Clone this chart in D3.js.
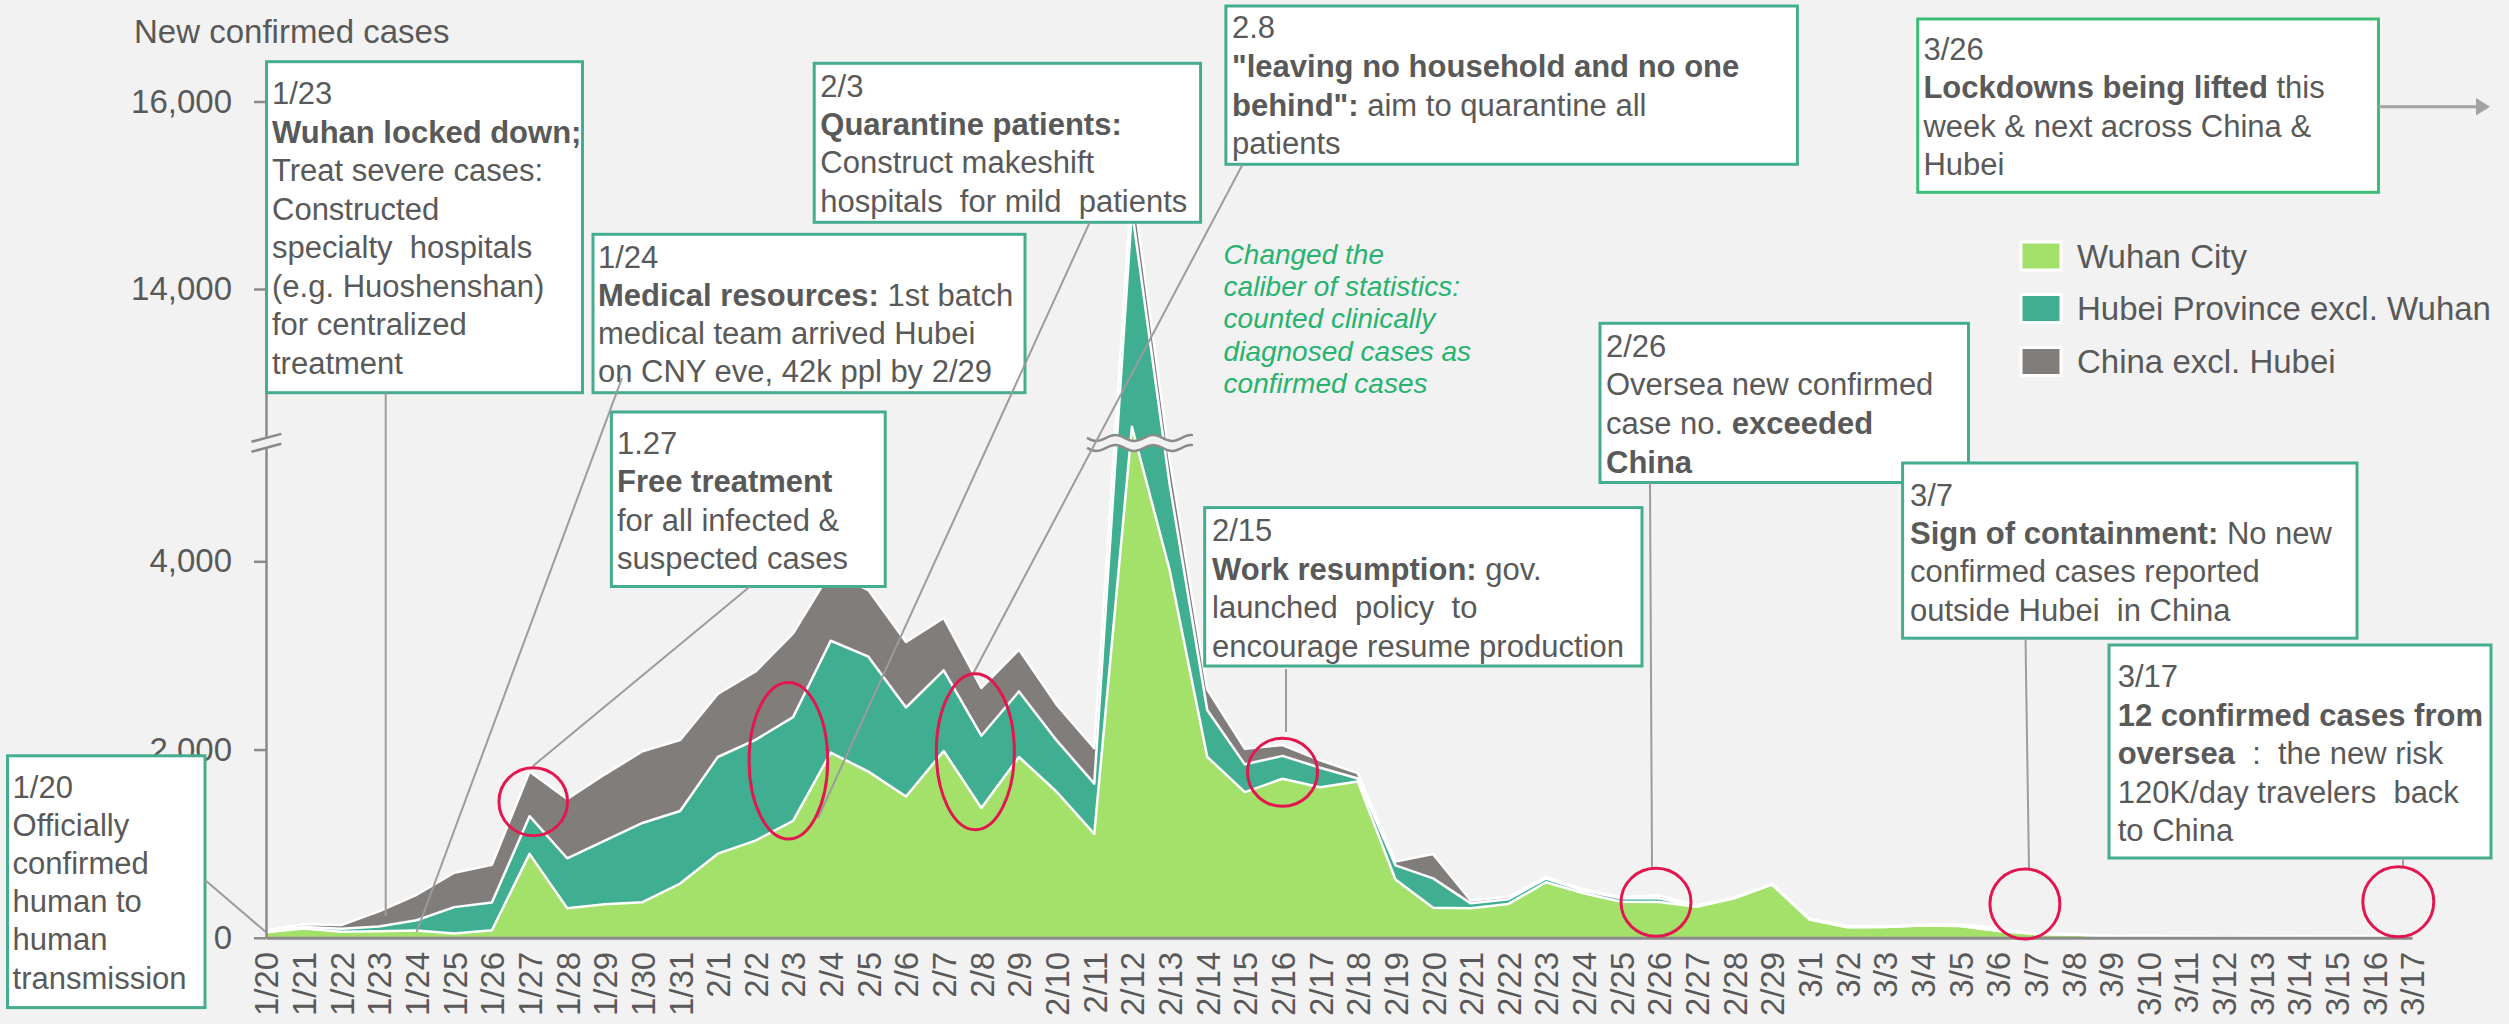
<!DOCTYPE html>
<html>
<head>
<meta charset="utf-8">
<script src="https://cdn.jsdelivr.net/npm/d3@7"></script>
<style>
  html, body { margin: 0; padding: 0; background: #f2f2f2; }
  svg { display: block; font-family: "Liberation Sans", Arial, sans-serif; }
  text { white-space: pre; }
</style>
</head>
<body>
<svg id="chart" width="2509" height="1024"></svg>
<script>
// ---------------- data ----------------
const dates = ["1/20","1/21","1/22","1/23","1/24","1/25","1/26","1/27","1/28","1/29","1/30","1/31",
  "2/1","2/2","2/3","2/4","2/5","2/6","2/7","2/8","2/9","2/10","2/11","2/12","2/13","2/14","2/15","2/16",
  "2/17","2/18","2/19","2/20","2/21","2/22","2/23","2/24","2/25","2/26","2/27","2/28","2/29",
  "3/1","3/2","3/3","3/4","3/5","3/6","3/7","3/8","3/9","3/10","3/11","3/12","3/13","3/14","3/15","3/16","3/17"];
const wuhanCity = [60,100,65,70,77,46,80,892,315,356,378,576,894,1033,1242,1967,1766,1501,1985,1379,1921,1552,1104,
  12530,3910,1923,1548,1690,1600,1660,620,319,314,360,590,474,384,380,330,420,565,193,111,114,131,126,74,41,36,17,13,8,5,4,4,4,1,1];
const hubeiExclWuhan = [12,15,30,50,110,280,295,400,530,676,842,771,1027,1070,1103,1189,1221,946,856,768,697,545,534,
  2310,913,497,295,243,207,33,150,312,52,50,40,25,35,40,5,3,5,3,3,1,3,0,0,0,0,0,0,0,0,0,0,0,0,0];
const chinaExclHubei = [5,30,40,160,270,365,400,475,630,705,762,755,669,726,890,731,707,696,558,509,444,381,377,
  312,267,221,166,115,79,56,40,258,31,25,18,15,15,30,10,4,3,6,11,4,5,17,25,3,4,2,11,7,3,7,16,12,20,12];
const seriesNames = ["Wuhan City","Hubei Province excl. Wuhan","China excl. Hubei"];
const seriesKeys = ["wuhan","hubei","china"];
const yTickValues = [0,2000,4000,14000,16000];
const yBreak = [5270, 12370];   // values removed by the axis break

// ---------------- styles ----------------
const colors = {wuhan:"#a3e16b", hubei:"#3fae91", china:"#817d7b"};
const textColor = "#595959";
const axisColor = "#8a8a8a";
const boxStroke = "#45ad8f";
const circleColor = "#e3174f";
const lineColor = "#9c9c9c";
const bg = "#f2f2f2";

const svg = d3.select("#chart");
svg.append("rect").attr("width",2509).attr("height",1024).attr("fill",bg);

const x = d3.scalePoint().domain(dates).range([266, 2412]);
const y = d3.scaleLinear().domain([0, yBreak[0], yBreak[1], 16000]).range([937.8, 441.8, 441.8, 101.5]);

const table = dates.map((d,i) => ({date:d, wuhan:wuhanCity[i], hubei:hubeiExclWuhan[i], china:chinaExclHubei[i]}));
const stacked = d3.stack().keys(seriesKeys)(table);

const area = d3.area().x(d => x(d.data.date)).y0(d => y(d[0])).y1(d => y(d[1]));
const topLine = d3.line().x(d => x(d.data.date)).y(d => y(d[1]));

const gData = svg.append("g");
gData.selectAll("path.area").data(stacked).join("path")
  .attr("class","area").attr("d", area).attr("fill", d => colors[d.key]);
gData.selectAll("path.top").data(stacked).join("path")
  .attr("class","top").attr("d", topLine).attr("fill","none")
  .attr("stroke","#ffffff").attr("stroke-width",2.5).attr("stroke-linejoin","round");

// wavy break across the 2/12 spike
const peakX = x("2/12");
const wave = (base) => d3.range(0, 41).map(k => {
  const t = k/40;
  return [peakX - 45 + 106*t, base + 3*Math.sin(t*Math.PI*2*2.8)];
});
const upper = wave(438), lower = wave(448);
svg.append("path")
  .attr("d", d3.line()(upper.concat(lower.slice().reverse())) + "Z")
  .attr("fill", bg);
[upper, lower].forEach(pts => svg.append("path").attr("d", d3.line().curve(d3.curveBasis)(pts))
  .attr("fill","none").attr("stroke",axisColor).attr("stroke-width",2.5));

// ---------------- axes ----------------
const yAxis = svg.append("g").attr("transform","translate(266,0)")
  .call(d3.axisLeft(y).tickValues(yTickValues).tickSize(12).tickSizeOuter(0).tickPadding(22)
    .tickFormat(d3.format(",")));
yAxis.select(".domain").attr("stroke",axisColor).attr("stroke-width",2.5);
yAxis.selectAll(".tick line").attr("stroke",axisColor).attr("stroke-width",2.5);
yAxis.selectAll(".tick text").attr("fill",textColor).style("font-size","33px");

// axis break mark
svg.append("path").attr("d","M251.4,441.8L281.3,433.9L281.3,443.8L251.4,451.8Z").attr("fill",bg);
svg.append("path").attr("d","M251.4,441.8L281.3,433.9M251.4,451.8L281.3,443.8")
  .attr("stroke",axisColor).attr("stroke-width",2.5);

const xAxis = svg.append("g").attr("transform","translate(0,937.8)")
  .call(d3.axisBottom(x).tickSize(0).tickSizeOuter(0));
xAxis.select(".domain").attr("stroke",axisColor).attr("stroke-width",3);
xAxis.selectAll(".tick text")
  .attr("transform","rotate(-90)").attr("text-anchor","end")
  .attr("x",-14).attr("y",0).attr("dy","0.36em")
  .attr("fill",textColor).style("font-size","33px");

svg.append("text").attr("x",134).attr("y",43).attr("fill",textColor)
  .style("font-size","33px").text("New confirmed cases");

// ---------------- callout lines ----------------
const callouts = [
  [205,880,265.8,932],
  [385.7,392.7,385.7,916],
  [750,586.5,533,766],
  [1089.7,222.3,818,818],
  [1242.7,164.3,973.3,673.5],
  [1286,669,1286,732],
  [1650,482.5,1652,868],
  [2025.5,638.2,2029,870],
  [2403,858,2403,867]
];

// ---------------- annotation boxes ----------------
const boxes = [
  {x:266.5,y:61.7,w:316,h:331, tx:272, by:104, lh:38.5, lines:[
    [["1/23",0]],[["Wuhan locked down;",1]],[["Treat severe cases:",0]],[["Constructed",0]],
    [["specialty  hospitals",0]],[["(e.g. Huoshenshan)",0]],[["for centralized",0]],[["treatment",0]]]},
  {x:593,y:234.3,w:432,h:158.4, tx:598, by:268.3, lh:38, lines:[
    [["1/24",0]],[["Medical resources:",1],[" 1st batch",0]],[["medical team arrived Hubei",0]],
    [["on CNY eve, 42k ppl by 2/29",0]]]},
  {x:611.4,y:412,w:273.8,h:174.5, tx:617, by:453.8, lh:38.5, lines:[
    [["1.27",0]],[["Free treatment",1]],[["for all infected &",0]],[["suspected cases",0]]]},
  {x:814.2,y:63.3,w:386.4,h:159, tx:820.3, by:96.7, lh:38.3, lines:[
    [["2/3",0]],[["Quarantine patients:",1]],[["Construct makeshift",0]],[["hospitals  for mild  patients",0]]]},
  {x:1225.9,y:6,w:571.5,h:158.3, tx:1232, by:38.3, lh:38.6, lines:[
    [["2.8",0]],[["\"leaving no household and no one",1]],[["behind\":",1],[" aim to quarantine all",0]],[["patients",0]]]},
  {x:1917.7,y:19,w:460.8,h:173.3, tx:1923.4, by:60, lh:38.3, stroke:"#3cbc75", lines:[
    [["3/26",0]],[["Lockdowns being lifted",1],[" this",0]],[["week & next across China &",0]],[["Hubei",0]]]},
  {x:1600,y:323.3,w:368.5,h:159.2, tx:1606, by:356.7, lh:38.6, lines:[
    [["2/26",0]],[["Oversea new confirmed",0]],[["case no. ",0],["exceeded",1]],[["China",1]]]},
  {x:1204.7,y:507.6,w:437.3,h:158.4, tx:1212, by:541.4, lh:38.5, lines:[
    [["2/15",0]],[["Work resumption:",1],[" gov.",0]],[["launched  policy  to",0]],[["encourage resume production",0]]]},
  {x:1902.6,y:463,w:454.4,h:175.2, tx:1910, by:505.6, lh:38.3, lines:[
    [["3/7",0]],[["Sign of containment:",1],[" No new",0]],[["confirmed cases reported",0]],[["outside Hubei  in China",0]]]},
  {x:2109,y:645,w:382,h:213, tx:2117.7, by:686.9, lh:38.6, lines:[
    [["3/17",0]],[["12 confirmed cases from",1]],[["oversea",1],["  :  the new risk",0]],
    [["120K/day travelers  back",0]],[["to China",0]]]},
  {x:7.5,y:755.8,w:197.5,h:251.8, tx:12.6, by:797.6, lh:38.2, lines:[
    [["1/20",0]],[["Officially",0]],[["confirmed",0]],[["human to",0]],[["human",0]],[["transmission",0]]]}
];

const gBoxes = svg.append("g");
boxes.forEach(b => {
  const g = gBoxes.append("g");
  g.append("rect").attr("x",b.x).attr("y",b.y).attr("width",b.w).attr("height",b.h)
    .attr("fill","#ffffff").attr("stroke",b.stroke || boxStroke).attr("stroke-width",3);
  b.lines.forEach((runs,i) => {
    const t = g.append("text").attr("x",b.tx).attr("y",b.by + i*b.lh)
      .attr("fill",textColor).style("font-size","31px");
    runs.forEach(r => t.append("tspan").attr("font-weight", r[1] ? "bold" : "normal").text(r[0]));
  });
});

// 1/24 callout starts inside its box
const gLines = svg.append("g");
gLines.append("line").attr("x1",622).attr("y1",378).attr("x2",x("1/24")).attr("y2",932)
  .attr("stroke",lineColor).attr("stroke-width",2);
callouts.forEach(c => gLines.append("line").attr("x1",c[0]).attr("y1",c[1]).attr("x2",c[2]).attr("y2",c[3])
  .attr("stroke",lineColor).attr("stroke-width",2));

// arrow from 3/26 box
svg.append("line").attr("x1",2378.5).attr("y1",106.7).attr("x2",2478).attr("y2",106.7)
  .attr("stroke","#a3a3a3").attr("stroke-width",3);
svg.append("path").attr("d","M2476,98L2490,106.7L2476,115.4Z").attr("fill","#a3a3a3");

// ---------------- highlight circles ----------------
const circles = [
  {d:"1/27", dx:3.7, cy:801.7, rx:34.3, ry:34},
  {d:"2/3", dx:-4.7, cy:760.7, rx:39.3, ry:78.3},
  {d:"2/8", dx:-6, cy:751.7, rx:39, ry:78},
  {d:"2/16", dx:0, cy:772.3, rx:35, ry:34},
  {d:"2/26", dx:-3, cy:902.3, rx:35, ry:34},
  {d:"3/7", dx:-10.6, cy:904, rx:35, ry:35},
  {d:"3/17", dx:-13.7, cy:901.7, rx:35.5, ry:35}
];
svg.append("g").selectAll("ellipse").data(circles).join("ellipse")
  .attr("cx", c => x(c.d) + c.dx).attr("cy", c => c.cy).attr("rx", c => c.rx).attr("ry", c => c.ry)
  .attr("fill","none").attr("stroke",circleColor).attr("stroke-width",3);

// ---------------- italic note ----------------
const note = ["Changed the","caliber of statistics:","counted clinically","diagnosed cases as","confirmed cases"];
svg.append("g").selectAll("text").data(note).join("text")
  .attr("x",1223.6).attr("y",(d,i) => 264 + i*32.2)
  .attr("fill","#27b36e").style("font-size","28px").style("font-style","italic").text(d => d);

// ---------------- legend ----------------
const legend = svg.append("g");
seriesKeys.forEach((k,i) => {
  const cy = [256, 308.5, 361.5][i];
  legend.append("rect").attr("x",2021).attr("y",cy-14).attr("width",40).attr("height",28)
    .attr("fill",colors[k]).attr("stroke","#ffffff").attr("stroke-width",3);
  legend.append("text").attr("x",2077).attr("y",cy).attr("dy","0.36em")
    .attr("fill",textColor).style("font-size","33px").text(seriesNames[i]);
});
</script>
</body>
</html>
